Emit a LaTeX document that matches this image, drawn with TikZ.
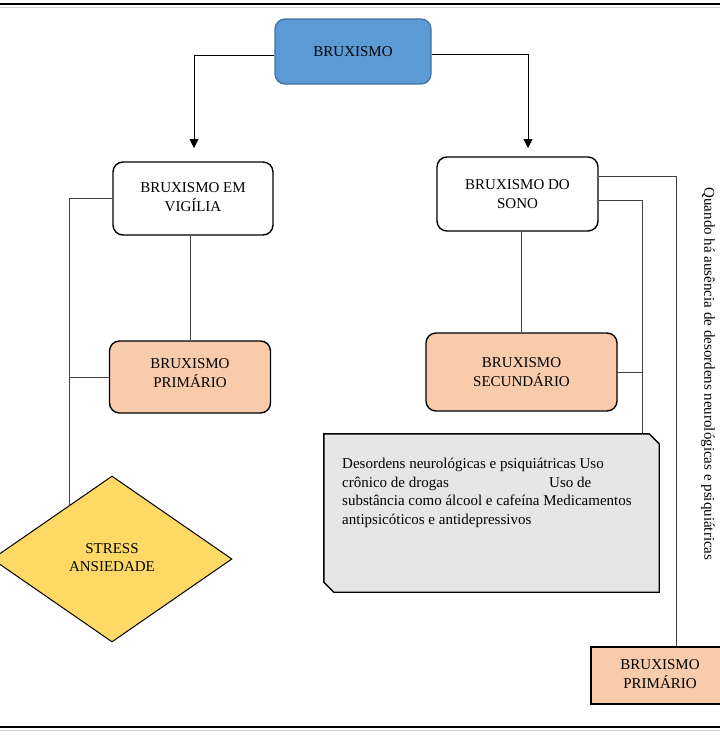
\documentclass[tikz,border=0pt]{standalone}
\usepackage{fontspec}
\setmainfont{Liberation Serif}
\usepackage{graphicx}
\usepackage{tikz}
\usetikzlibrary{arrows.meta, shapes.geometric, calc}
\definecolor{bluebox}{HTML}{5B9BD5}
\definecolor{blueedge}{HTML}{41719C}
\definecolor{peach}{HTML}{F8CBAD}
\definecolor{sunyellow}{HTML}{FFD966}
\definecolor{greybox}{HTML}{E7E6E6}
\definecolor{wirecol}{HTML}{404040}
\newcommand{\liftup}[2]{\raisebox{#1}{\begin{tabular}{@{}c@{}}#2\end{tabular}}}
\tikzset{
  txt/.style={font=\fontsize{15}{18.5}\selectfont, align=center},
  roundbox/.style={txt, draw=black, line width=1.4pt, rounded corners=10pt, inner sep=0pt},
  wire/.style={draw=wirecol, line width=0.9pt},
  arr/.style={draw=black, line width=0.9pt, -{Triangle[width=9pt,length=9pt]}},
}

\begin{document}
\begin{tikzpicture}[x=1pt, y=-1pt]
\useasboundingbox (0,0) rectangle (720,740);
\clip (0,0) rectangle (720,740);
% page rules
\draw[line width=2pt] (0,3.5) -- (720,3.5);
\draw[gray!35, line width=0.8pt] (0,7) -- (720,7);
\draw[line width=2pt] (0,727) -- (720,727);
\draw[gray!35, line width=0.8pt] (0,730.5) -- (720,730.5);

% boxes
\node[roundbox, fill=bluebox, draw=blueedge, line width=1.2pt, minimum width=156pt, minimum height=65pt]
  (bruxismo) at (353,51.5) {BRUXISMO};
\node[roundbox, fill=white, minimum width=160pt, minimum height=73pt]
  (vigilia) at (193,198.5) {\liftup{9pt}{BRUXISMO EM\\VIGÍLIA}};
\node[roundbox, fill=peach, minimum width=161pt, minimum height=72pt]
  (primL) at (190,377) {\liftup{20pt}{BRUXISMO\\PRIMÁRIO}};
\node[txt, diamond, aspect=1.446, draw=black, line width=1pt, fill=sunyellow,
  minimum width=240pt, minimum height=166pt, inner sep=0pt]
  (stress) at (112,559) {\liftup{6pt}{STRESS\\ANSIEDADE}};
\node[roundbox, fill=white, minimum width=161pt, minimum height=74pt]
  (sono) at (517.5,194) {BRUXISMO DO\\SONO};
\node[roundbox, fill=peach, minimum width=191pt, minimum height=78pt]
  (secund) at (521.5,372) {BRUXISMO\\SECUNDÁRIO};
% grey box with two cut corners
\node[minimum width=335pt, minimum height=158pt, inner sep=0pt] (desordens) at (491.5,513) {};
\filldraw[draw=black, line width=1.4pt, fill=greybox]
  (desordens.north west) -- ([xshift=-10pt]desordens.north east)
  -- ([yshift=-10pt]desordens.north east) -- (desordens.south east)
  -- ([xshift=10pt]desordens.south west) -- ([yshift=10pt]desordens.south west) -- cycle;
\node[txt, align=left, anchor=north west, inner sep=0pt]
  (desordensTxt) at (342,458) {Desordens neurológicas e psiquiátricas Uso\\
  \makebox[207pt][l]{crônico de drogas}Uso de\\
  substância como álcool e cafeína Medicamentos\\
  antipsicóticos e antidepressivos};
\node[txt, draw=black, line width=1.6pt, fill=peach, minimum width=138pt, minimum height=57pt, inner sep=0pt]
  (primR) at (660,675.5) {\liftup{8pt}{BRUXISMO\\PRIMÁRIO}};
\node[txt, rotate=-90] (ausencia) at (708,374)
  {Quando há ausência de desordens neurológicas e psiquiátricas};

% helper points
\coordinate (arrL) at (194,148);
\coordinate (arrR) at (528,148);
\coordinate (stressTop) at (69,506);
\coordinate (nearWire) at (642,0);
\coordinate (farWire) at (676,0);

% connectors
\draw[arr] ([yshift=-4pt]bruxismo.west) -| (arrL);
\draw[arr] ([yshift=-3pt]bruxismo.east) -| (arrR);
\draw[wire] (vigilia.west) -| (stressTop);
\draw[wire] (primL.west) -- (primL.west -| stressTop);
\draw[wire] (primL.north |- vigilia.south) -- (primL.north);
\draw[wire] (secund.north |- sono.south) -- (secund.north);
\draw[wire] ([yshift=18pt]sono.east) -| (farWire |- primR.north);
\draw[wire] ([yshift=-6pt]sono.east) -| (nearWire |- desordens.north);
\draw[wire] (secund.east) -- (secund.east -| nearWire);
\end{tikzpicture}
\end{document}
